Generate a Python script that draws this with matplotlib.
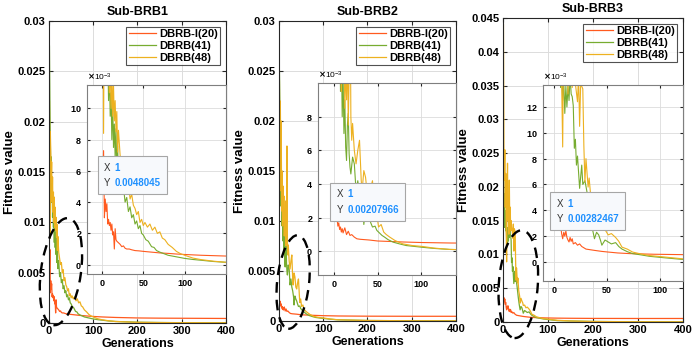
import matplotlib
matplotlib.use("Agg")
import matplotlib.pyplot as plt
from matplotlib.patches import Ellipse
from matplotlib.transforms import ScaledTranslation
from matplotlib.ticker import FormatStrFormatter, ScalarFormatter
from matplotlib.offsetbox import TextArea, HPacker, VPacker, AnnotationBbox

plt.rcParams['font.family'] = ['Liberation Sans', 'DejaVu Sans']
plt.rcParams['font.weight'] = 'bold'

# fitness values are stored in units of 1e-3
# ---- Sub-BRB1 ----
b1_or_x = [1, 2, 3, 4, 5, 6, 7, 8, 9, 10, 11, 12, 13, 14, 15, 16, 17, 18, 20, 22, 24, 26, 28, 30,
           33, 36, 40, 45, 50, 60, 70, 80, 90, 100, 120, 150, 200, 250, 300, 350, 400]
b1_or_y = [4.8045, 7.3, 3.0, 4.2, 3.4, 3.9, 2.6, 2.9, 2.5, 2.7, 2.2, 2.6, 1.9, 2.1, 1.0, 2.3, 1.6, 1.5,
           1.4, 1.3, 1.15, 1.2, 1.05, 1.0, 1.0, 0.95, 0.9, 0.88, 0.85, 0.8, 0.75, 0.72, 0.68, 0.65, 0.6,
           0.55, 0.5, 0.48, 0.47, 0.46, 0.45]
b1_gr_x = [1, 2, 3, 4, 5, 6, 7, 8, 9, 10, 11, 12, 13, 14, 15, 16, 17, 18, 19, 20, 22, 24, 26, 28, 30,
           32, 34, 36, 38, 40, 42, 44, 46, 48, 50, 53, 56, 60, 63, 66, 70, 75, 80, 85, 90, 100, 110, 120,
           135, 150, 200, 250, 300, 400]
b1_gr_y = [27.5, 22, 18, 15, 16.5, 12, 14, 10.5, 12.5, 9.5, 11, 8.0, 10.5, 7.5, 9.0, 6.8, 8.7, 6.0, 7.6,
           5.4, 6.2, 4.6, 5.0, 4.0, 4.3, 3.4, 3.7, 3.0, 3.2, 2.6, 2.8, 2.3, 2.5, 2.0, 1.9, 1.6, 1.5, 1.15,
           1.1, 0.9, 0.8, 0.7, 0.6, 0.55, 0.5, 0.4, 0.33, 0.28, 0.2, 0.15, 0.08, 0.05, 0.03, 0.02]
b1_ye_x = [1, 2, 3, 4, 5, 6, 7, 8, 9, 10, 11, 12, 13, 14, 15, 16, 17, 18, 19, 20, 22, 24, 26, 28, 30,
           32, 34, 36, 38, 40, 42, 44, 46, 48, 50, 52, 55, 58, 61, 64, 67, 70, 73, 76, 80, 85, 90, 95,
           100, 110, 120, 135, 150, 200, 250, 300, 400]
b1_ye_y = [22, 8.4, 19, 17, 14, 16, 12, 14.5, 11, 13, 10, 12.5, 9.5, 11.5, 9.2, 10.5, 8.5, 9.8, 7.2, 8.6,
           7.0, 6.4, 5.8, 6.0, 5.0, 5.3, 4.2, 4.5, 3.8, 3.6, 3.2, 3.4, 2.7, 2.9, 2.5, 2.7, 2.4, 2.6, 2.2,
           2.4, 2.0, 2.1, 1.7, 1.6, 1.3, 1.1, 0.85, 0.7, 0.6, 0.42, 0.32, 0.22, 0.15, 0.06, 0.04, 0.03, 0.02]

# ---- Sub-BRB2 ----
b2_or_x = [1, 2, 3, 4, 5, 6, 7, 8, 9, 10, 12, 14, 16, 18, 20, 23, 26, 30, 35, 40, 50, 60, 80, 100,
           135, 200, 300, 400]
b2_or_y = [2.07966, 1.85, 1.95, 1.5, 1.7, 1.3, 1.45, 1.15, 1.35, 1.1, 1.4, 1.0, 1.2, 0.95, 1.0, 0.85,
           0.75, 0.72, 0.7, 0.68, 0.62, 0.6, 0.56, 0.53, 0.5, 0.48, 0.47, 0.47]
b2_gr_x = [1, 2, 3, 4, 5, 6, 7, 8, 9, 10, 11, 12, 13, 14, 15, 16, 17, 18, 19, 21, 23, 25, 27, 29, 31,
           33, 34, 36, 38, 40, 42, 44, 47, 49, 52, 55, 58, 62, 68, 75, 83, 92, 101, 115, 133, 150, 200,
           300, 400]
b2_gr_y = [25, 21.5, 11.5, 18, 12, 15, 9.5, 12, 8, 10.5, 7.0, 9.0, 6.2, 5.4, 7.5, 8.2, 5.8, 5.0, 4.6,
           5.6, 5.2, 3.6, 4.2, 3.4, 3.0, 2.4, 1.6, 2.5, 2.2, 2.0, 1.7, 1.45, 1.5, 1.25, 1.1, 0.95, 0.85,
           0.7, 0.55, 0.45, 0.35, 0.3, 0.25, 0.18, 0.12, 0.1, 0.05, 0.02, 0.01]
b2_ye_x = [1, 2, 3, 4, 5, 6, 7, 8, 9, 10, 11, 12, 13, 14, 15, 16, 17, 18, 19, 20, 21, 23, 25, 27, 29,
           31, 32, 34, 36, 38, 40, 42, 44, 46, 47, 49, 51, 54, 57, 60, 64, 70, 79, 90, 101, 115, 133,
           150, 200, 300, 400]
b2_ye_y = [24, 13, 22, 16, 20, 11, 15, 9.5, 13.5, 10, 12.5, 8.5, 11, 9, 12, 7.5, 10.5, 17.5, 8.0, 6.6,
           7.6, 6.0, 5.2, 6.0, 6.6, 4.2, 3.6, 4.8, 4.4, 3.4, 3.2, 3.8, 4.2, 2.6, 1.85, 2.2, 1.45, 1.6,
           1.15, 1.0, 0.85, 0.65, 0.45, 0.35, 0.3, 0.2, 0.12, 0.1, 0.05, 0.02, 0.01]

# ---- Sub-BRB3 ----
b3_or_x = [1, 2, 3, 4, 5, 6, 7, 8, 9, 10, 11, 12, 13, 14, 15, 16, 17, 18, 20, 22, 24, 26, 28, 30, 34,
           38, 45, 51, 60, 71, 85, 94, 121, 150, 200, 300, 400]
b3_or_y = [2.82467, 3.6, 3.0, 3.4, 2.6, 2.9, 2.2, 1.8, 2.3, 2.0, 2.4, 1.9, 1.7, 1.55, 1.9, 1.6, 1.8,
           1.4, 1.5, 1.3, 1.4, 1.2, 1.1, 1.0, 0.95, 0.9, 0.82, 0.77, 0.7, 0.65, 0.62, 0.6, 0.57, 0.55,
           0.53, 0.52, 0.52]
b3_gr_x = [1, 2, 3, 4, 5, 6, 7, 8, 9, 10, 11, 12, 13, 14, 15, 16, 17, 18, 19, 20, 21, 22, 24, 26, 27,
           29, 31, 33, 34, 36, 38, 40, 42, 44, 45, 48, 51, 54, 58, 61, 64, 69, 74, 82, 90, 105, 121, 150,
           200, 300, 400]
b3_gr_y = [24, 17, 19, 14, 16.5, 13.5, 15, 12.5, 14, 11.5, 13.6, 12, 13.6, 12.5, 14.5, 13, 12.8, 12.1,
           8.8, 9.5, 7.5, 8.2, 5.7, 7.5, 6.0, 6.3, 5.4, 4.2, 3.6, 2.6, 1.8, 2.3, 2.1, 1.6, 1.3, 1.7,
           1.55, 1.4, 1.5, 1.2, 1.0, 0.8, 0.65, 0.55, 0.44, 0.32, 0.2, 0.15, 0.08, 0.03, 0.02]
b3_ye_x = [1, 2, 3, 4, 5, 6, 7, 8, 9, 10, 11, 12, 13, 14, 15, 16, 17, 18, 19, 20, 22, 23, 24, 25, 27,
           28, 29, 30, 32, 33, 35, 37, 38, 40, 42, 44, 45, 48, 51, 54, 58, 61, 64, 69, 74, 82, 90, 105,
           121, 150, 200, 300, 400]
b3_ye_y = [44, 26, 21, 25.5, 17, 22, 14, 8.9, 19, 23.5, 15, 18, 13, 21, 14.5, 17, 13.5, 15, 14, 13.8,
           12.4, 14.5, 10.5, 13.8, 13.4, 9, 6.2, 8.0, 5.8, 6.5, 4.6, 3.8, 2.8, 3.5, 3.1, 2.8, 2.45, 2.5,
           2.1, 2.2, 1.9, 1.6, 1.15, 1.0, 0.77, 0.62, 0.5, 0.38, 0.25, 0.15, 0.07, 0.03, 0.02]

labels = ['DBRB-I(20)', 'DBRB(41)', 'DBRB(48)']
colors = ['#FF5A1F', '#77AC30', '#EDB120']
titles = ['Sub-BRB1', 'Sub-BRB2', 'Sub-BRB3']

panels = [
    [(b1_or_x, b1_or_y), (b1_gr_x, b1_gr_y), (b1_ye_x, b1_ye_y)],
    [(b2_or_x, b2_or_y), (b2_gr_x, b2_gr_y), (b2_ye_x, b2_ye_y)],
    [(b3_or_x, b3_or_y), (b3_gr_x, b3_gr_y), (b3_ye_x, b3_ye_y)],
]

main_pos = [[0.0706, 0.0978, 0.255, 0.8436],
            [0.4020, 0.1034, 0.255, 0.838],
            [0.7248, 0.1006, 0.2594, 0.849]]
main_ymax = [0.03, 0.03, 0.045]
inset_pos = [[0.1254, 0.2346, 0.2003, 0.528],
             [0.4582, 0.2318, 0.1988, 0.5363],
             [0.7824, 0.2151, 0.2017, 0.5475]]
inset_xlim = [(-18, 150), (-19, 140.5), (-10.6, 121.6)]
inset_ylim = [(-0.6e-3, 11.5e-3), (-1.4e-3, 10.0e-3), (-1.47e-3, 13.7e-3)]
inset_yticks = [[0, 2e-3, 4e-3, 6e-3, 8e-3, 10e-3],
                [0, 2e-3, 4e-3, 6e-3, 8e-3],
                [0, 2e-3, 4e-3, 6e-3, 8e-3, 10e-3, 12e-3]]
# dashed ellipses: centre in data units, size in inches
ell_center = [(27, 0.0051), (32, 0.0039), (34, 0.0056)]
ell_size = [(0.40, 1.08), (0.32, 0.94), (0.39, 1.08)]
ell_angle = [-8, -6, -4]

edge = '#262626'
gridc = '#DCDCDC'

fig = plt.figure(figsize=(6.94, 3.58), dpi=100)

for k in range(3):
    ax = fig.add_axes(main_pos[k])
    for (xs, ys), c, lab in zip(panels[k], colors, labels):
        ax.plot(xs, [v * 1e-3 for v in ys], color=c, lw=0.9, label=lab)
    ax.set_xlim(0, 400)
    ax.set_ylim(0, main_ymax[k])
    ax.set_xticks([0, 100, 200, 300, 400])
    ax.yaxis.set_major_formatter(FormatStrFormatter('%g'))
    ax.grid(True, color=gridc, lw=0.7)
    ax.tick_params(direction='in', labelsize=8, length=3, color=edge, top=True, right=True, pad=2.5)
    for s in ax.spines.values():
        s.set_color(edge)
        s.set_linewidth(0.8)
    ax.set_title(titles[k], fontsize=9, fontweight='bold', pad=4)
    ax.set_xlabel('Generations', fontsize=9, fontweight='bold', labelpad=1)
    ax.set_ylabel('Fitness value', fontsize=9.5, fontweight='bold', labelpad=1)
    leg = ax.legend(loc='upper right', fontsize=8, frameon=True, fancybox=False,
                    handlelength=2.4, borderpad=0.25, labelspacing=0.15, handletextpad=0.3,
                    borderaxespad=0.5)
    leg.get_frame().set_edgecolor(edge)
    leg.get_frame().set_linewidth(0.8)
    tr = fig.dpi_scale_trans + ScaledTranslation(ell_center[k][0], ell_center[k][1], ax.transData)
    ell = Ellipse((0, 0), ell_size[k][0], ell_size[k][1], angle=ell_angle[k], transform=tr,
                  fill=False, ec='black', lw=1.7, ls=(0, (4.5, 3)), clip_on=False, zorder=5)
    ax.add_patch(ell)

    ins = fig.add_axes(inset_pos[k])
    for (xs, ys), c in zip(panels[k], colors):
        ins.plot(xs, [v * 1e-3 for v in ys], color=c, lw=0.8)
    ins.set_xlim(inset_xlim[k])
    ins.set_ylim(inset_ylim[k])
    ins.set_xticks([0, 50, 100])
    ins.set_yticks(inset_yticks[k])
    fmt = ScalarFormatter(useMathText=True)
    fmt.set_powerlimits((-3, -3))
    ins.yaxis.set_major_formatter(fmt)
    ins.yaxis.get_offset_text().set_fontsize(6)
    ins.yaxis.get_offset_text().set_fontweight('normal')
    ins.grid(True, color=gridc, lw=0.6)
    ins.tick_params(direction='in', labelsize=6.5, length=2, color=edge, top=True, right=True)
    for s in ins.spines.values():
        s.set_color('#7F7F7F')
        s.set_linewidth(0.8)

    # data tip at the first generation of DBRB-I
    tip_x = panels[k][0][0][0]
    tip_y = panels[k][0][1][0] * 1e-3
    ins.plot(tip_x, tip_y, 'o', color='black', ms=3, zorder=6)
    lab_props = dict(color='#333333', fontsize=7, fontweight='normal')
    val_props = dict(color='#1E90FF', fontsize=7, fontweight='bold')
    row1 = HPacker(children=[TextArea('X', textprops=lab_props), TextArea('1', textprops=val_props)],
                   pad=0, sep=3)
    row2 = HPacker(children=[TextArea('Y', textprops=lab_props),
                             TextArea(('%.8f' % tip_y).rstrip('0'), textprops=val_props)],
                   pad=0, sep=3)
    box = VPacker(children=[row1, row2], pad=0, sep=4)
    ab = AnnotationBbox(box, (tip_x, tip_y), xybox=(1, 1), xycoords='data',
                        boxcoords='offset points', box_alignment=(0, 0), pad=0.45,
                        bboxprops=dict(boxstyle='square,pad=0.45', fc='#F7F9FC', ec='#A6A6A6', lw=0.8))
    ab.set_zorder(7)
    ins.add_artist(ab)

fig.savefig('out.png', dpi=100)
